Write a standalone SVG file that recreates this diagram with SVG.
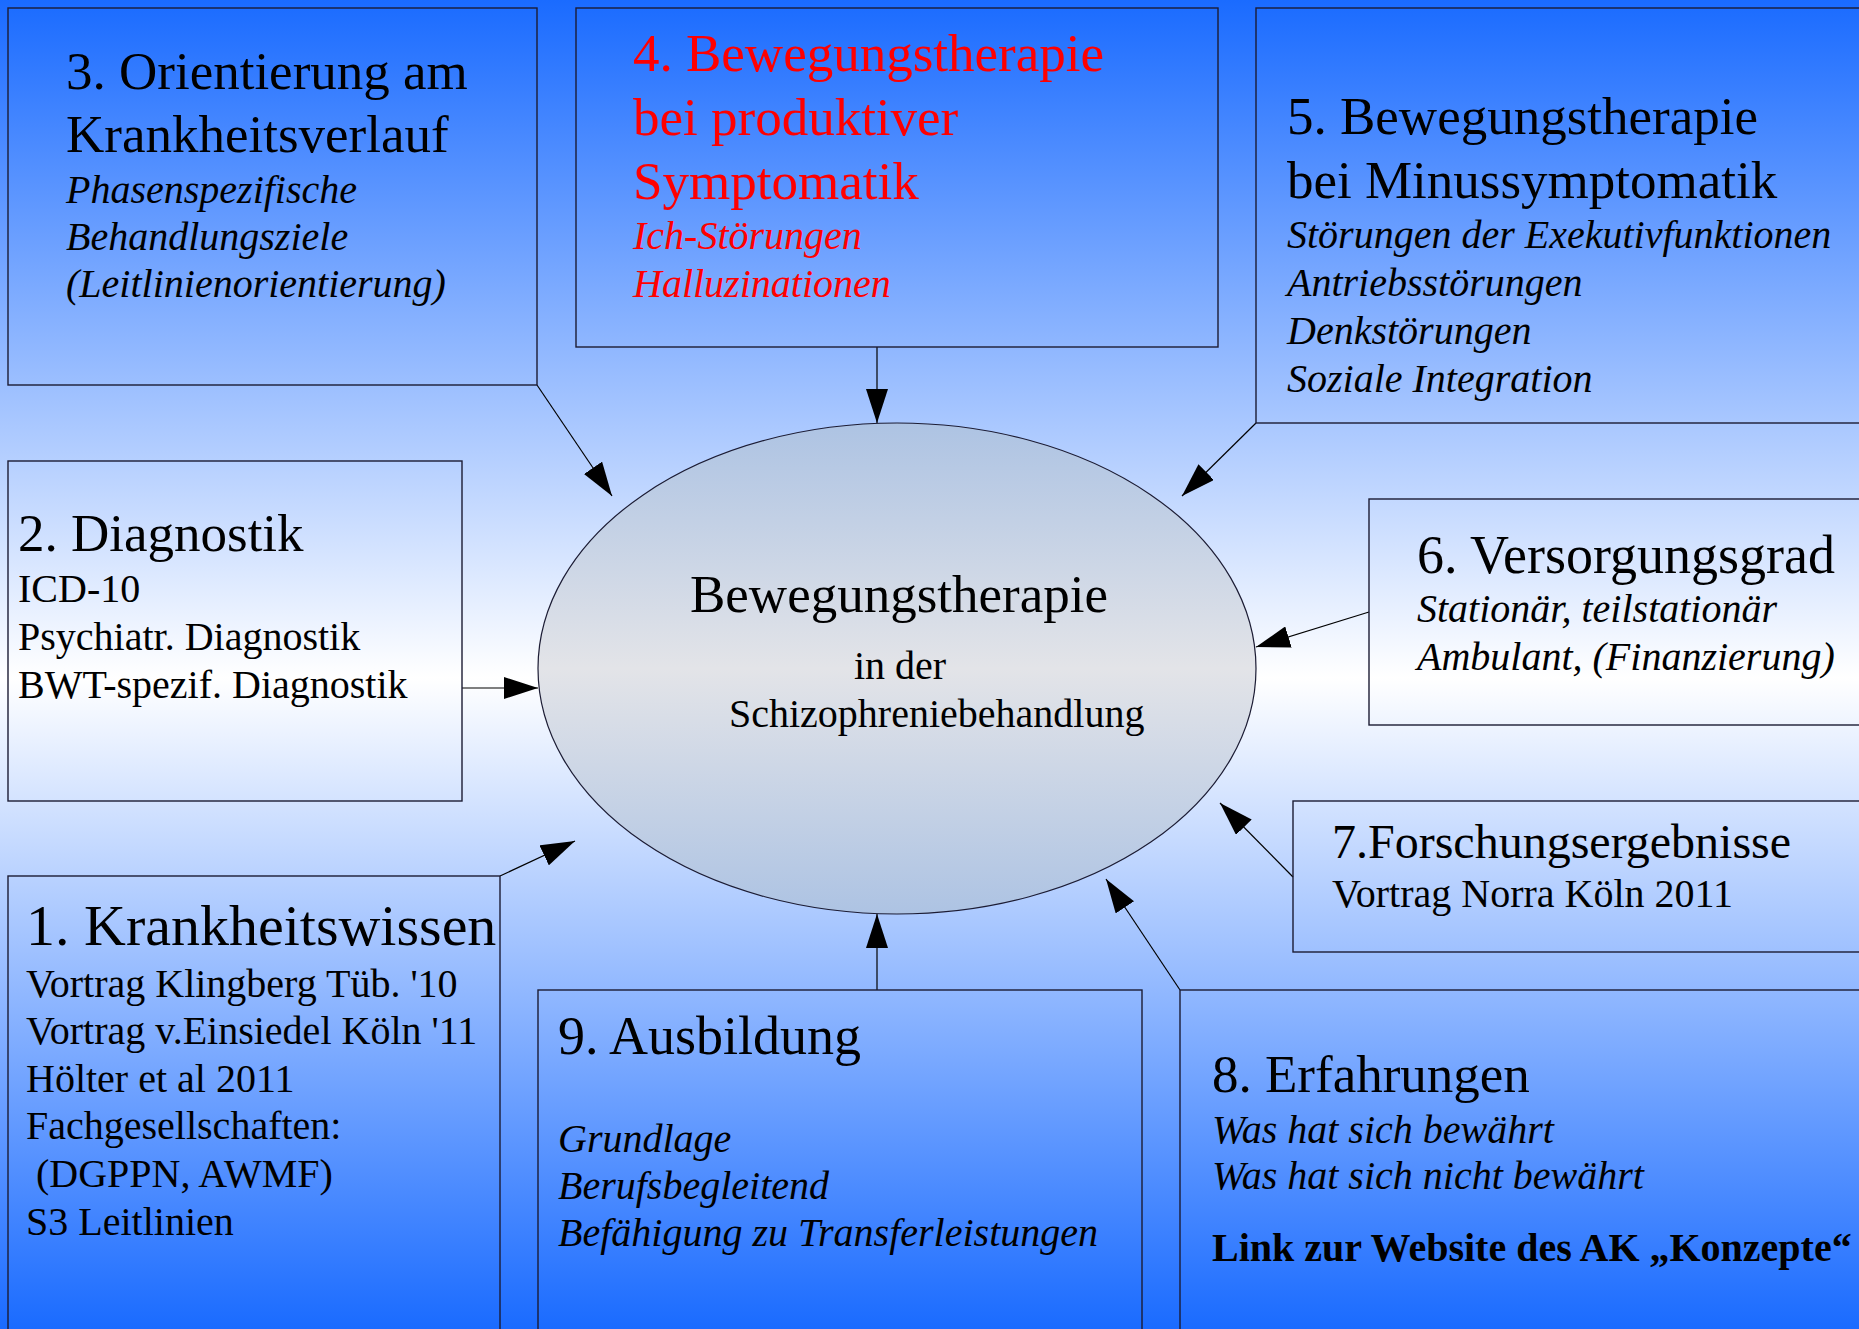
<svg xmlns="http://www.w3.org/2000/svg" width="1859" height="1329" viewBox="0 0 1859 1329">
<defs>
<linearGradient id="bg" x1="0" y1="0" x2="0" y2="1">
<stop offset="0" stop-color="#1a6bff"/>
<stop offset="0.51" stop-color="#ffffff"/>
<stop offset="1" stop-color="#1a6bff"/>
</linearGradient>
<linearGradient id="ell" x1="0" y1="0" x2="0" y2="1">
<stop offset="0" stop-color="#adc3e3"/>
<stop offset="0.5" stop-color="#e3e4e8"/>
<stop offset="1" stop-color="#adc3e3"/>
</linearGradient>
<marker id="ah" markerUnits="userSpaceOnUse" markerWidth="34" markerHeight="22" refX="34" refY="11" orient="auto">
<path d="M0,0 L34,11 L0,22 z" fill="#000"/>
</marker>
<style>
.box{fill:none;stroke:#1c1c34;stroke-width:1.4}
.t{font-family:"Liberation Serif","Times New Roman",serif;fill:#000}
.h{font-size:53px}
.s{font-size:40px}
.i{font-size:40px;font-style:italic}
.red{fill:#ff0000}
.con{stroke:#000;stroke-width:1.2;fill:none;marker-end:url(#ah)}
</style>
</defs>
<rect x="0" y="0" width="1859" height="1329" fill="url(#bg)"/>

<g id="connectors">
<line class="con" x1="537" y1="385" x2="612" y2="496"/>
<line class="con" x1="877" y1="347" x2="877" y2="423"/>
<line class="con" x1="1256" y1="423" x2="1182" y2="496"/>
<line class="con" x1="462" y1="688" x2="538" y2="688"/>
<line class="con" x1="1369" y1="612" x2="1256" y2="647"/>
<line class="con" x1="1293" y1="877" x2="1220" y2="803"/>
<line class="con" x1="1180" y1="990" x2="1106" y2="879"/>
<line class="con" x1="877" y1="990" x2="877" y2="914"/>
<line class="con" x1="500" y1="876" x2="575" y2="841"/>
</g>

<g id="center">
<ellipse cx="897" cy="668.5" rx="359" ry="245.5" fill="url(#ell)" stroke="#1c1c34" stroke-width="1.2"/>
<text class="t h" x="690" y="612">Bewegungstherapie</text>
<text class="t s" x="900" y="679" text-anchor="middle">in der</text>
<text class="t s" x="729" y="727">Schizophreniebehandlung</text>
</g>

<g id="node3">
<rect class="box" x="8" y="8" width="529" height="377"/>
<text class="t h" x="66" y="89">3. Orientierung am</text>
<text class="t h" x="66" y="152">Krankheitsverlauf</text>
<text class="t i" x="66" y="203">Phasenspezifische</text>
<text class="t i" x="66" y="250">Behandlungsziele</text>
<text class="t i" x="66" y="297">(Leitlinienorientierung)</text>
</g>

<g id="node4">
<rect class="box" x="576" y="8" width="642" height="339"/>
<text class="t h red" x="633" y="71">4. Bewegungstherapie</text>
<text class="t h red" x="633" y="135">bei produktiver</text>
<text class="t h red" x="633" y="199">Symptomatik</text>
<text class="t i red" x="633" y="249">Ich-Störungen</text>
<text class="t i red" x="633" y="297">Halluzinationen</text>
</g>

<g id="node5">
<rect class="box" x="1256" y="8" width="640" height="415"/>
<text class="t h" x="1287" y="134">5. Bewegungstherapie</text>
<text class="t h" x="1287" y="198">bei Minussymptomatik</text>
<text class="t i" x="1287" y="248">Störungen der Exekutivfunktionen</text>
<text class="t i" x="1287" y="296">Antriebsstörungen</text>
<text class="t i" x="1287" y="344">Denkstörungen</text>
<text class="t i" x="1287" y="392">Soziale Integration</text>
</g>

<g id="node2">
<rect class="box" x="8" y="461" width="454" height="340"/>
<text class="t h" x="18" y="551">2. Diagnostik</text>
<text class="t s" x="18" y="602">ICD-10</text>
<text class="t s" x="18" y="650">Psychiatr. Diagnostik</text>
<text class="t s" x="18" y="698">BWT-spezif. Diagnostik</text>
</g>

<g id="node6">
<rect class="box" x="1369" y="499" width="530" height="226"/>
<text class="t" style="font-size:54px" x="1417" y="573">6. Versorgungsgrad</text>
<text class="t i" x="1417" y="622">Stationär, teilstationär</text>
<text class="t i" x="1417" y="670">Ambulant, (Finanzierung)</text>
</g>

<g id="node7">
<rect class="box" x="1293" y="801" width="606" height="151"/>
<text class="t" style="font-size:48px" x="1332" y="858">7.Forschungsergebnisse</text>
<text class="t s" x="1332" y="907">Vortrag Norra Köln 2011</text>
</g>

<g id="node1">
<rect class="box" x="8" y="876" width="492" height="500"/>
<text class="t" style="font-size:58px" x="26" y="945">1. Krankheitswissen</text>
<text class="t s" x="26" y="997">Vortrag Klingberg Tüb. '10</text>
<text class="t s" x="26" y="1044">Vortrag v.Einsiedel Köln '11</text>
<text class="t s" x="26" y="1092">Hölter et al 2011</text>
<text class="t s" x="26" y="1139">Fachgesellschaften:</text>
<text class="t s" x="36" y="1187">(DGPPN, AWMF)</text>
<text class="t s" x="26" y="1235">S3 Leitlinien</text>
</g>

<g id="node9">
<rect class="box" x="538" y="990" width="604" height="400"/>
<text class="t" style="font-size:54px" x="558" y="1054">9. Ausbildung</text>
<text class="t i" x="558" y="1152">Grundlage</text>
<text class="t i" x="558" y="1199">Berufsbegleitend</text>
<text class="t i" x="558" y="1246">Befähigung zu Transferleistungen</text>
</g>

<g id="node8">
<rect class="box" x="1180" y="990" width="720" height="400"/>
<text class="t h" x="1212" y="1092">8. Erfahrungen</text>
<text class="t i" x="1212" y="1143">Was hat sich bewährt</text>
<text class="t i" x="1212" y="1189">Was hat sich nicht bewährt</text>
<text class="t s" style="font-weight:bold" x="1212" y="1261">Link zur Website des AK „Konzepte“</text>
</g>
</svg>
